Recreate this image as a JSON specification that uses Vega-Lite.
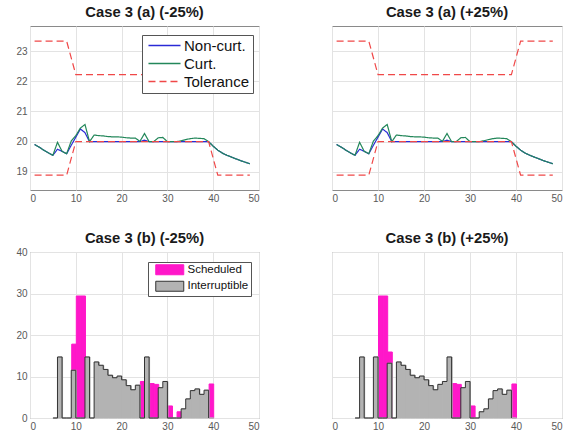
{
  "$schema": "https://vega.github.io/schema/vega-lite/v6.json",
  "background": "white",
  "padding": {"left": 15, "top": 4, "right": 5, "bottom": 5},
  "bounds": "flush",
  "columns": 2,
  "spacing": {"row": 62, "column": 73},
  "config": {
    "font": "Liberation Sans",
    "view": {"stroke": "#8a8a8a", "strokeWidth": 1},
    "axis": {"labelFont": "Liberation Sans", "labelFontSize": 10, "labelColor": "#595959", "domain": false, "ticks": false, "labelPadding": 3, "gridColor": "#e3e3e3", "gridWidth": 1},
    "title": {"font": "Liberation Sans", "fontSize": 14.8, "fontWeight": "bold", "color": "#1a1a1a", "offset": 6, "baseline": "alphabetic", "frame": "group"}
  },
  "resolve": {
    "scale": {"x": "independent", "y": "independent", "color": "independent", "strokeDash": "independent", "fill": "independent", "stroke": "independent"},
    "legend": {"color": "independent", "strokeDash": "independent", "fill": "independent", "stroke": "independent"}
  },
  "datasets": {
    "lines": [
      {"series": "Non-curt.", "part": "a", "t": 1, "v": 19.91}, {"series": "Non-curt.", "part": "a", "t": 2, "v": 19.82}, {"series": "Non-curt.", "part": "a", "t": 3, "v": 19.72}, {"series": "Non-curt.", "part": "a", "t": 4, "v": 19.63}, {"series": "Non-curt.", "part": "a", "t": 5, "v": 19.55}, {"series": "Non-curt.", "part": "a", "t": 6, "v": 19.75}, {"series": "Non-curt.", "part": "a", "t": 7, "v": 19.68}, {"series": "Non-curt.", "part": "a", "t": 8, "v": 19.6}, {"series": "Non-curt.", "part": "a", "t": 9, "v": 19.88}, {"series": "Non-curt.", "part": "a", "t": 10, "v": 20.15}, {"series": "Non-curt.", "part": "a", "t": 11, "v": 20.42}, {"series": "Non-curt.", "part": "a", "t": 12, "v": 20.3}, {"series": "Non-curt.", "part": "a", "t": 13, "v": 20.0}, {"series": "Non-curt.", "part": "a", "t": 14, "v": 20.0}, {"series": "Non-curt.", "part": "a", "t": 15, "v": 20.0}, {"series": "Non-curt.", "part": "a", "t": 16, "v": 20.0}, {"series": "Non-curt.", "part": "a", "t": 17, "v": 20.0}, {"series": "Non-curt.", "part": "a", "t": 18, "v": 20.0}, {"series": "Non-curt.", "part": "a", "t": 19, "v": 20.0}, {"series": "Non-curt.", "part": "a", "t": 20, "v": 20.0}, {"series": "Non-curt.", "part": "a", "t": 21, "v": 20.0}, {"series": "Non-curt.", "part": "a", "t": 22, "v": 20.0}, {"series": "Non-curt.", "part": "a", "t": 23, "v": 20.0}, {"series": "Non-curt.", "part": "a", "t": 24, "v": 20.0}, {"series": "Non-curt.", "part": "a", "t": 25, "v": 20.05}, {"series": "Non-curt.", "part": "a", "t": 26, "v": 20.0}, {"series": "Non-curt.", "part": "a", "t": 27, "v": 20.0}, {"series": "Non-curt.", "part": "a", "t": 28, "v": 20.0}, {"series": "Non-curt.", "part": "a", "t": 29, "v": 20.0}, {"series": "Non-curt.", "part": "a", "t": 30, "v": 20.0}, {"series": "Non-curt.", "part": "a", "t": 31, "v": 20.0}, {"series": "Non-curt.", "part": "a", "t": 32, "v": 20.0}, {"series": "Non-curt.", "part": "a", "t": 33, "v": 20.0}, {"series": "Non-curt.", "part": "a", "t": 34, "v": 20.0}, {"series": "Non-curt.", "part": "a", "t": 35, "v": 20.0}, {"series": "Non-curt.", "part": "a", "t": 36, "v": 20.0}, {"series": "Non-curt.", "part": "a", "t": 37, "v": 20.0}, {"series": "Non-curt.", "part": "a", "t": 38, "v": 20.0}, {"series": "Non-curt.", "part": "a", "t": 39, "v": 20.0}, {"series": "Non-curt.", "part": "a", "t": 40, "v": 19.85}, {"series": "Non-curt.", "part": "a", "t": 41, "v": 19.72}, {"series": "Non-curt.", "part": "a", "t": 42, "v": 19.62}, {"series": "Non-curt.", "part": "a", "t": 43, "v": 19.55}, {"series": "Non-curt.", "part": "a", "t": 44, "v": 19.49}, {"series": "Non-curt.", "part": "a", "t": 45, "v": 19.43}, {"series": "Non-curt.", "part": "a", "t": 46, "v": 19.37}, {"series": "Non-curt.", "part": "a", "t": 47, "v": 19.32}, {"series": "Non-curt.", "part": "a", "t": 48, "v": 19.27},
      {"series": "Curt.", "part": "a", "t": 1, "v": 19.91}, {"series": "Curt.", "part": "a", "t": 2, "v": 19.82}, {"series": "Curt.", "part": "a", "t": 3, "v": 19.72}, {"series": "Curt.", "part": "a", "t": 4, "v": 19.63}, {"series": "Curt.", "part": "a", "t": 5, "v": 19.55}, {"series": "Curt.", "part": "a", "t": 6, "v": 19.98}, {"series": "Curt.", "part": "a", "t": 7, "v": 19.68}, {"series": "Curt.", "part": "a", "t": 8, "v": 19.6}, {"series": "Curt.", "part": "a", "t": 9, "v": 20.02}, {"series": "Curt.", "part": "a", "t": 10, "v": 20.2}, {"series": "Curt.", "part": "a", "t": 11, "v": 20.45}, {"series": "Curt.", "part": "a", "t": 12, "v": 20.57}, {"series": "Curt.", "part": "a", "t": 13, "v": 20.0}, {"series": "Curt.", "part": "a", "t": 14, "v": 20.22}, {"series": "Curt.", "part": "a", "t": 15, "v": 20.2}, {"series": "Curt.", "part": "a", "t": 16, "v": 20.19}, {"series": "Curt.", "part": "a", "t": 17, "v": 20.17}, {"series": "Curt.", "part": "a", "t": 18, "v": 20.16}, {"series": "Curt.", "part": "a", "t": 19, "v": 20.16}, {"series": "Curt.", "part": "a", "t": 20, "v": 20.15}, {"series": "Curt.", "part": "a", "t": 21, "v": 20.13}, {"series": "Curt.", "part": "a", "t": 22, "v": 20.12}, {"series": "Curt.", "part": "a", "t": 23, "v": 20.12}, {"series": "Curt.", "part": "a", "t": 24, "v": 20.01}, {"series": "Curt.", "part": "a", "t": 25, "v": 20.27}, {"series": "Curt.", "part": "a", "t": 26, "v": 20.0}, {"series": "Curt.", "part": "a", "t": 27, "v": 20.0}, {"series": "Curt.", "part": "a", "t": 28, "v": 20.13}, {"series": "Curt.", "part": "a", "t": 29, "v": 20.14}, {"series": "Curt.", "part": "a", "t": 30, "v": 20.0}, {"series": "Curt.", "part": "a", "t": 31, "v": 20.0}, {"series": "Curt.", "part": "a", "t": 32, "v": 20.0}, {"series": "Curt.", "part": "a", "t": 33, "v": 20.03}, {"series": "Curt.", "part": "a", "t": 34, "v": 20.07}, {"series": "Curt.", "part": "a", "t": 35, "v": 20.1}, {"series": "Curt.", "part": "a", "t": 36, "v": 20.12}, {"series": "Curt.", "part": "a", "t": 37, "v": 20.11}, {"series": "Curt.", "part": "a", "t": 38, "v": 20.1}, {"series": "Curt.", "part": "a", "t": 39, "v": 20.0}, {"series": "Curt.", "part": "a", "t": 40, "v": 19.85}, {"series": "Curt.", "part": "a", "t": 41, "v": 19.72}, {"series": "Curt.", "part": "a", "t": 42, "v": 19.62}, {"series": "Curt.", "part": "a", "t": 43, "v": 19.55}, {"series": "Curt.", "part": "a", "t": 44, "v": 19.49}, {"series": "Curt.", "part": "a", "t": 45, "v": 19.43}, {"series": "Curt.", "part": "a", "t": 46, "v": 19.37}, {"series": "Curt.", "part": "a", "t": 47, "v": 19.32}, {"series": "Curt.", "part": "a", "t": 48, "v": 19.27},
      {"series": "Tolerance", "part": "upper", "t": 1, "v": 23.33}, {"series": "Tolerance", "part": "upper", "t": 8, "v": 23.33}, {"series": "Tolerance", "part": "upper", "t": 10, "v": 22.22}, {"series": "Tolerance", "part": "upper", "t": 39, "v": 22.22}, {"series": "Tolerance", "part": "upper", "t": 41, "v": 23.33}, {"series": "Tolerance", "part": "upper", "t": 48, "v": 23.33},
      {"series": "Tolerance", "part": "lower", "t": 1, "v": 18.89}, {"series": "Tolerance", "part": "lower", "t": 8, "v": 18.89}, {"series": "Tolerance", "part": "lower", "t": 10, "v": 20.0}, {"series": "Tolerance", "part": "lower", "t": 39, "v": 20.0}, {"series": "Tolerance", "part": "lower", "t": 41, "v": 18.89}, {"series": "Tolerance", "part": "lower", "t": 48, "v": 18.89}
    ],
    "barsL": [
      {"type": "Scheduled", "t": 9, "v": 17.8}, {"type": "Scheduled", "t": 10, "v": 29.4}, {"type": "Scheduled", "t": 11, "v": 29.4}, {"type": "Scheduled", "t": 24, "v": 8.8}, {"type": "Scheduled", "t": 26, "v": 8.3}, {"type": "Scheduled", "t": 27, "v": 8.1}, {"type": "Scheduled", "t": 30, "v": 2.9}, {"type": "Scheduled", "t": 32, "v": 1.5}, {"type": "Scheduled", "t": 39, "v": 8.2},
      {"type": "Interruptible", "t": 5, "v": 0}, {"type": "Interruptible", "t": 6, "v": 14.7}, {"type": "Interruptible", "t": 7, "v": 0}, {"type": "Interruptible", "t": 8, "v": 0}, {"type": "Interruptible", "t": 9, "v": 11.5}, {"type": "Interruptible", "t": 10, "v": 0}, {"type": "Interruptible", "t": 11, "v": 0}, {"type": "Interruptible", "t": 12, "v": 14.7}, {"type": "Interruptible", "t": 13, "v": 0}, {"type": "Interruptible", "t": 14, "v": 13.5}, {"type": "Interruptible", "t": 15, "v": 12.7}, {"type": "Interruptible", "t": 16, "v": 11.7}, {"type": "Interruptible", "t": 17, "v": 10.3}, {"type": "Interruptible", "t": 18, "v": 9.7}, {"type": "Interruptible", "t": 19, "v": 10.1}, {"type": "Interruptible", "t": 20, "v": 9.2}, {"type": "Interruptible", "t": 21, "v": 7.8}, {"type": "Interruptible", "t": 22, "v": 6.8}, {"type": "Interruptible", "t": 23, "v": 7.9}, {"type": "Interruptible", "t": 24, "v": 0}, {"type": "Interruptible", "t": 25, "v": 14.7}, {"type": "Interruptible", "t": 26, "v": 0}, {"type": "Interruptible", "t": 27, "v": 0}, {"type": "Interruptible", "t": 28, "v": 7.3}, {"type": "Interruptible", "t": 29, "v": 8.8}, {"type": "Interruptible", "t": 30, "v": 0}, {"type": "Interruptible", "t": 31, "v": 0}, {"type": "Interruptible", "t": 32, "v": 0}, {"type": "Interruptible", "t": 33, "v": 2.2}, {"type": "Interruptible", "t": 34, "v": 4.6}, {"type": "Interruptible", "t": 35, "v": 6.6}, {"type": "Interruptible", "t": 36, "v": 7.0}, {"type": "Interruptible", "t": 37, "v": 5.7}, {"type": "Interruptible", "t": 38, "v": 6.7}, {"type": "Interruptible", "t": 39, "v": 0}
    ],
    "barsR": [
      {"type": "Scheduled", "t": 10, "v": 29.4}, {"type": "Scheduled", "t": 11, "v": 29.4}, {"type": "Scheduled", "t": 12, "v": 15.9}, {"type": "Scheduled", "t": 26, "v": 8.3}, {"type": "Scheduled", "t": 27, "v": 8.1}, {"type": "Scheduled", "t": 30, "v": 2.9}, {"type": "Scheduled", "t": 39, "v": 8.2},
      {"type": "Interruptible", "t": 5, "v": 0}, {"type": "Interruptible", "t": 6, "v": 14.7}, {"type": "Interruptible", "t": 7, "v": 0}, {"type": "Interruptible", "t": 8, "v": 0}, {"type": "Interruptible", "t": 9, "v": 14.7}, {"type": "Interruptible", "t": 10, "v": 0}, {"type": "Interruptible", "t": 11, "v": 0}, {"type": "Interruptible", "t": 12, "v": 13.2}, {"type": "Interruptible", "t": 13, "v": 0}, {"type": "Interruptible", "t": 14, "v": 13.5}, {"type": "Interruptible", "t": 15, "v": 12.7}, {"type": "Interruptible", "t": 16, "v": 11.7}, {"type": "Interruptible", "t": 17, "v": 10.3}, {"type": "Interruptible", "t": 18, "v": 9.7}, {"type": "Interruptible", "t": 19, "v": 10.1}, {"type": "Interruptible", "t": 20, "v": 9.2}, {"type": "Interruptible", "t": 21, "v": 7.8}, {"type": "Interruptible", "t": 22, "v": 6.8}, {"type": "Interruptible", "t": 23, "v": 8.1}, {"type": "Interruptible", "t": 24, "v": 8.8}, {"type": "Interruptible", "t": 25, "v": 14.7}, {"type": "Interruptible", "t": 26, "v": 0}, {"type": "Interruptible", "t": 27, "v": 0}, {"type": "Interruptible", "t": 28, "v": 7.3}, {"type": "Interruptible", "t": 29, "v": 8.8}, {"type": "Interruptible", "t": 30, "v": 0}, {"type": "Interruptible", "t": 31, "v": 0}, {"type": "Interruptible", "t": 32, "v": 1.5}, {"type": "Interruptible", "t": 33, "v": 2.2}, {"type": "Interruptible", "t": 34, "v": 4.6}, {"type": "Interruptible", "t": 35, "v": 6.6}, {"type": "Interruptible", "t": 36, "v": 7.0}, {"type": "Interruptible", "t": 37, "v": 5.7}, {"type": "Interruptible", "t": 38, "v": 6.7}, {"type": "Interruptible", "t": 39, "v": 0}
    ]
  },
  "concat": [
    {
      "width": 229, "height": 164,
      "title": "Case 3 (a) (-25%)",
      "data": {"name": "lines"},
      "mark": {"type": "line", "strokeWidth": 1.2, "clip": true},
      "encoding": {
        "x": {"field": "t", "type": "quantitative", "title": null, "scale": {"domain": [0, 50], "nice": false}, "axis": {"values": [0, 10, 20, 30, 40, 50], "grid": true}},
        "y": {"field": "v", "type": "quantitative", "title": null, "scale": {"domain": [18.4, 23.83], "nice": false, "zero": false}, "axis": {"values": [19, 20, 21, 22, 23], "grid": true}},
        "color": {"field": "series", "type": "nominal", "scale": {"domain": ["Non-curt.", "Curt.", "Tolerance"], "range": ["#2a2ad6", "#23875a", "#f04848"]},
          "legend": {"orient": "none", "legendX": 112, "legendY": 9, "title": null, "fillColor": "white", "strokeColor": "#555555", "padding": 3, "symbolType": "M-3,0H3", "symbolSize": 114, "symbolOffset": 12, "symbolStrokeWidth": 1.3, "labelFontSize": 15, "labelFont": "Liberation Sans", "labelColor": "#111111", "labelOffset": 12, "rowPadding": 2}},
        "strokeDash": {"field": "series", "type": "nominal", "scale": {"domain": ["Non-curt.", "Curt.", "Tolerance"], "range": [[1, 0], [1, 0], [7, 4]]},
          "legend": {"orient": "none", "legendX": 112, "legendY": 9, "title": null, "fillColor": "white", "strokeColor": "#555555", "padding": 3, "symbolType": "M-3,0H3", "symbolSize": 114, "symbolOffset": 12, "symbolStrokeWidth": 1.3, "labelFontSize": 15, "labelFont": "Liberation Sans", "labelColor": "#111111", "labelOffset": 12, "rowPadding": 2}},
        "detail": {"field": "part", "type": "nominal"},
        "order": {"field": "t", "type": "quantitative"}
      }
    },
    {
      "width": 230, "height": 164,
      "title": "Case 3 (a) (+25%)",
      "data": {"name": "lines"},
      "mark": {"type": "line", "strokeWidth": 1.2, "clip": true},
      "encoding": {
        "x": {"field": "t", "type": "quantitative", "title": null, "scale": {"domain": [0, 50], "nice": false}, "axis": {"values": [0, 10, 20, 30, 40, 50], "grid": true}},
        "y": {"field": "v", "type": "quantitative", "title": null, "scale": {"domain": [18.4, 23.83], "nice": false, "zero": false}, "axis": {"values": [19, 20, 21, 22, 23], "grid": true, "labels": false}},
        "color": {"field": "series", "type": "nominal", "scale": {"domain": ["Non-curt.", "Curt.", "Tolerance"], "range": ["#2a2ad6", "#23875a", "#f04848"]}, "legend": null},
        "strokeDash": {"field": "series", "type": "nominal", "scale": {"domain": ["Non-curt.", "Curt.", "Tolerance"], "range": [[1, 0], [1, 0], [7, 4]]}, "legend": null},
        "detail": {"field": "part", "type": "nominal"},
        "order": {"field": "t", "type": "quantitative"}
      }
    },
    {
      "width": 229, "height": 166,
      "title": {"text": "Case 3 (b) (-25%)", "offset": 1},
      "data": {"name": "barsL"},
      "layer": [
        {
          "mark": {"type": "bar", "strokeWidth": 1, "binSpacing": 0},
          "encoding": {
            "x": {"field": "t", "type": "quantitative", "bin": {"step": 1, "extent": [0, 50]}, "title": null, "scale": {"domain": [0, 50], "nice": false}, "axis": {"values": [0, 10, 20, 30, 40, 50], "grid": true, "format": "d"}},
            "y": {"field": "v", "type": "quantitative", "stack": null, "title": null, "scale": {"domain": [0, 40], "nice": false}, "axis": {"values": [0, 5, 10, 15, 20, 25, 30, 35, 40], "grid": true}},
            "fill": {"field": "type", "type": "nominal", "scale": {"domain": ["Scheduled", "Interruptible"], "range": ["#ff17c9", "#b3b3b3"]},
              "legend": {"orient": "none", "legendX": 118, "legendY": 10, "title": null, "fillColor": "white", "strokeColor": "#555555", "padding": 2, "symbolType": "M-2.8,-1H2.8V1H-2.8Z", "symbolSize": 100, "symbolOffset": 14, "symbolStrokeWidth": 1, "labelFontSize": 11.5, "labelFont": "Liberation Sans", "labelColor": "#111111", "labelOffset": 12, "rowPadding": 1.5}},
            "stroke": {"condition": {"test": "datum.type === 'Interruptible'", "value": "#b3b3b3"}, "value": "#ff17c9"}
          }
        },
        {
          "transform": [{"filter": "datum.type === 'Interruptible'"}],
          "mark": {"type": "line", "interpolate": "step-after", "strokeWidth": 1},
          "encoding": {
            "x": {"field": "t", "type": "quantitative", "title": null},
            "y": {"field": "v", "type": "quantitative", "title": null},
            "stroke": {"field": "type", "type": "nominal", "scale": {"domain": ["Scheduled", "Interruptible"], "range": ["#ff17c9", "#333333"]},
              "legend": {"orient": "none", "legendX": 118, "legendY": 10, "title": null, "fillColor": "white", "strokeColor": "#555555", "padding": 2, "symbolType": "M-2.8,-1H2.8V1H-2.8Z", "symbolSize": 100, "symbolOffset": 14, "symbolStrokeWidth": 1, "labelFontSize": 11.5, "labelFont": "Liberation Sans", "labelColor": "#111111", "labelOffset": 12, "rowPadding": 1.5}}
          }
        }
      ]
    },
    {
      "width": 230, "height": 166,
      "title": "Case 3 (b) (+25%)",
      "data": {"name": "barsR"},
      "layer": [
        {
          "mark": {"type": "bar", "strokeWidth": 1, "binSpacing": 0},
          "encoding": {
            "x": {"field": "t", "type": "quantitative", "bin": {"step": 1, "extent": [0, 50]}, "title": null, "scale": {"domain": [0, 50], "nice": false}, "axis": {"values": [0, 10, 20, 30, 40, 50], "grid": true, "format": "d"}},
            "y": {"field": "v", "type": "quantitative", "stack": null, "title": null, "scale": {"domain": [0, 40], "nice": false}, "axis": {"values": [0, 5, 10, 15, 20, 25, 30, 35, 40], "grid": true, "labels": false}},
            "fill": {"field": "type", "type": "nominal", "scale": {"domain": ["Scheduled", "Interruptible"], "range": ["#ff17c9", "#b3b3b3"]}, "legend": null},
            "stroke": {"condition": {"test": "datum.type === 'Interruptible'", "value": "#b3b3b3"}, "value": "#ff17c9"}
          }
        },
        {
          "transform": [{"filter": "datum.type === 'Interruptible'"}],
          "mark": {"type": "line", "interpolate": "step-after", "color": "#333333", "strokeWidth": 1},
          "encoding": {
            "x": {"field": "t", "type": "quantitative", "title": null},
            "y": {"field": "v", "type": "quantitative", "title": null}
          }
        }
      ]
    }
  ]
}
